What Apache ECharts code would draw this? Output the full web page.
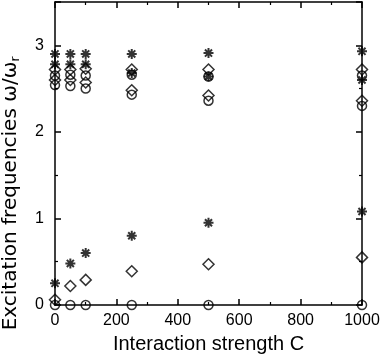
<!DOCTYPE html>
<html>
<head>
<meta charset="utf-8">
<script src="https://cdn.jsdelivr.net/npm/echarts@6/dist/echarts.min.js"></script>
<style>
  html, body { margin: 0; padding: 0; background: #fff; }
  #chart { width: 382px; height: 354px; }
</style>
</head>
<body>
<div id="chart"></div>
<script>
// interaction strength C
const strengths = [0, 50, 100, 250, 500, 1000];

// circles
const circleHigh = [2.65, 2.66, 2.65, 2.66, 2.64, 2.65];
const circleLow = [2.54, 2.53, 2.50, 2.43, 2.36, 2.30];
const circleZero = [0, 0, 0, 0, 0, 0];

// diamonds
const diamondHigh = [2.72, 2.72, 2.73, 2.72, 2.72, 2.72];
const diamondLow = [2.60, 2.60, 2.57, 2.48, 2.42, 2.36];
const diamondBottom = [0.06, 0.22, 0.29, 0.39, 0.47, 0.55];

// asterisks
const starTop = [2.90, 2.90, 2.90, 2.90, 2.91, 2.93];
const starMid = [2.78, 2.78, 2.78, 2.68, 2.64, 2.60];
const starBottom = [0.25, 0.48, 0.60, 0.80, 0.95, 1.08];

const xTicks = [0, 200, 400, 600, 800, 1000];
const yTicks = [0, 1, 2, 3];

const pts = (...lists) => {
  const out = [];
  lists.forEach(l => l.forEach((v, i) => out.push([strengths[i], v])));
  return out;
};

// asterisk = 4 crossing bars (same winding so the fill is solid)
const asterisk = 'path://M-1,-5L1,-5L1,5L-1,5Z' +
  'M-5,-1L5,-1L5,1L-5,1Z' +
  'M-4.24,-2.83L-2.83,-4.24L4.24,2.83L2.83,4.24Z' +
  'M-2.83,4.24L-4.24,2.83L2.83,-4.24L4.24,-2.83Z';

const font = 'Liberation Sans, Arial, sans-serif';
const chart = echarts.init(document.getElementById('chart'));

const lineStyle = { color: '#000', width: 1.5 };
const xBase = {
  type: 'value', min: 0, max: 1000, interval: 200,
  axisLine: { show: true, onZero: false, lineStyle: lineStyle },
  axisTick: { show: true, inside: true, length: 6, lineStyle: lineStyle },
  minorTick: { show: true, splitNumber: 2, length: 3, lineStyle: { color: '#000', width: 1.2 } },
  splitLine: { show: false }
};
const yBase = {
  type: 'value', min: 0, max: 3.5, interval: 1,
  axisLine: { show: true, onZero: false, lineStyle: lineStyle },
  axisTick: { show: true, inside: true, length: 6, lineStyle: lineStyle },
  minorTick: { show: true, splitNumber: 2, length: 3, lineStyle: { color: '#000', width: 1.2 } },
  splitLine: { show: false }
};

chart.setOption({
  animation: false,
  backgroundColor: '#fff',
  grid: { left: 55, right: 20, top: 2, bottom: 49, outerBoundsMode: 'none' },
  xAxis: [
    Object.assign({}, xBase, {
      position: 'bottom',
      name: 'Interaction strength C',
      nameLocation: 'middle',
      nameGap: 29,
      nameTextStyle: { color: '#000', fontSize: 20, fontFamily: font },
      axisLabel: {
        color: '#000', fontSize: 16, fontFamily: font, margin: 8,
        formatter: v => (xTicks.indexOf(v) >= 0 ? String(v) : '')
      }
    }),
    Object.assign({}, xBase, { position: 'top', axisLabel: { show: false } })
  ],
  yAxis: [
    Object.assign({}, yBase, {
      position: 'left',
      name: 'Excitation frequencies ω/ω{sub|r}',
      nameLocation: 'middle',
      nameGap: 33,
      nameTextStyle: {
        color: '#000', fontSize: 20, fontFamily: 'DejaVu Sans, sans-serif',
        padding: [0, 80, 0, 0],
        rich: { sub: { fontSize: 12, fontFamily: 'DejaVu Sans, sans-serif', color: '#000', verticalAlign: 'bottom', padding: [10, 0, 0, 0] } }
      },
      axisLabel: {
        color: '#000', fontSize: 16, fontFamily: font, margin: 11,
        showMaxLabel: false,
        formatter: v => (yTicks.indexOf(v) >= 0 ? String(v) : '')
      }
    }),
    Object.assign({}, yBase, { position: 'right', axisLabel: { show: false } })
  ],
  series: [
    {
      type: 'scatter', clip: false,
      symbol: 'circle', symbolSize: 9,
      itemStyle: { color: 'rgba(0,0,0,0)', borderColor: '#000', borderWidth: 1.5 },
      data: pts(circleHigh, circleLow, circleZero)
    },
    {
      type: 'scatter', clip: false,
      symbol: 'diamond', symbolSize: [11, 11],
      itemStyle: { color: 'rgba(0,0,0,0)', borderColor: '#000', borderWidth: 1.5 },
      data: pts(diamondHigh, diamondLow, diamondBottom)
    },
    {
      type: 'scatter', clip: false,
      symbol: asterisk, symbolSize: 10,
      itemStyle: { color: '#000' },
      data: pts(starTop, starMid, starBottom)
    }
  ]
});
</script>
</body>
</html>
